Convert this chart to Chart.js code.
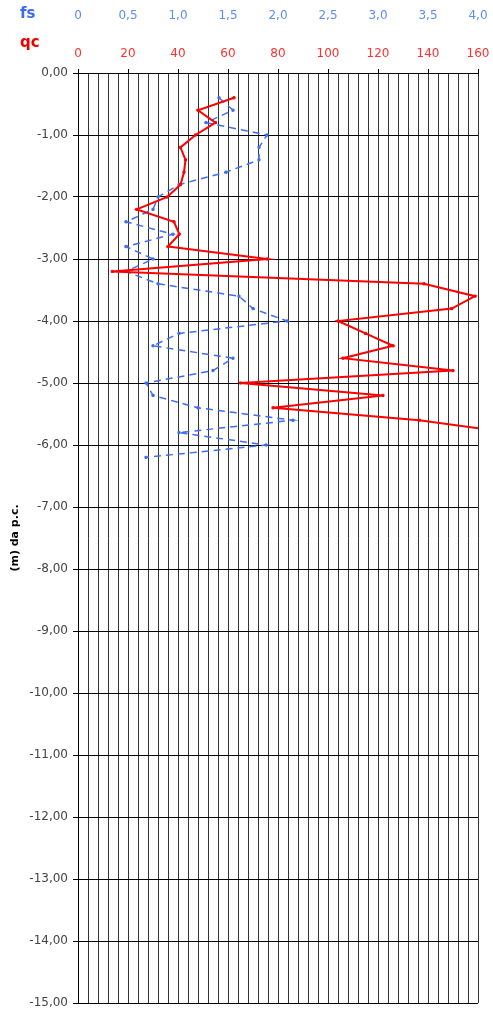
<!DOCTYPE html>
<html>
<head>
<meta charset="utf-8">
<script src="https://cdn.jsdelivr.net/npm/chart.js@4.4.1/dist/chart.umd.min.js"></script>
<style>
  body { margin:0; background:#fff; }
  #wrap { position:relative; width:493px; height:1017px; }
  .ax-name { position:absolute; font-family:'DejaVu Sans', sans-serif; font-weight:bold; font-size:15px; line-height:1; }
</style>
</head>
<body>
<div id="wrap">
  <canvas id="cpt" width="493" height="1017"></canvas>
  <span class="ax-name" style="left:20px; top:6px; color:#3a6cf0;">fs</span>
  <span class="ax-name" style="left:20px; top:35px; color:#ee0000;">qc</span>
</div>
<script>
// profondità (m) e letture della prova penetrometrica
const depthQc = [0.4,0.6,0.8,1.0,1.2,1.4,1.6,1.8,2.0,2.2,2.4,2.6,2.8,3.0,3.2,3.4,3.6,3.8,4.0,4.2,4.4,4.6,4.8,5.0,5.2,5.4,5.6,5.8];
const qcValues = [62.4,48,55,47,41,43,42.4,41,35.7,23.5,38.4,40.5,36,75.7,13.7,138.4,158.8,149.5,104,115,126,106,150,65,122,78,136.5,173];
const depthFs = [0.4,0.6,0.8,1.0,1.2,1.4,1.6,1.8,2.0,2.2,2.4,2.6,2.8,3.0,3.2,3.4,3.6,3.8,4.0,4.2,4.4,4.6,4.8,5.0,5.2,5.4,5.6,5.8,6.0,6.2];
const fsValues = [1.41,1.55,1.28,1.89,1.81,1.81,1.48,1.01,0.80,0.75,0.48,0.95,0.48,0.75,0.48,0.80,1.61,1.75,2.09,1.01,0.75,1.55,1.35,0.68,0.75,1.20,2.15,1.01,1.88,0.68];
const qcTicks = [0,20,40,60,80,100,120,140,160];
const fsTicks = [0,0.5,1,1.5,2,2.5,3,3.5,4];

const comma = (v, d) => v.toFixed(d).replace('.', ',');
const FONT = "'DejaVu Sans', sans-serif";
// niente margini extra per le etichette agli estremi
const noSidePad = s => { s.paddingLeft = 0; s.paddingRight = 0; };

new Chart(document.getElementById('cpt'), {
  type: 'scatter',
  data: {
    datasets: [
      {
        label: 'qc',
        xAxisID: 'x',
        data: qcValues.map((v, i) => ({ x: v, y: -depthQc[i] })),
        showLine: true,
        borderColor: '#ff0000',
        backgroundColor: '#ff0000',
        borderWidth: 2,
        pointStyle: 'rect',
        pointRadius: 1.5,
        pointBorderWidth: 1,
        order: 1
      },
      {
        label: 'fs',
        xAxisID: 'x2',
        data: fsValues.map((v, i) => ({ x: v, y: -depthFs[i] })),
        showLine: true,
        borderColor: '#3d6ef5',
        backgroundColor: '#3d6ef5',
        borderWidth: 1.5,
        borderDash: [7, 5],
        pointStyle: 'rect',
        pointRadius: 1.5,
        pointBorderWidth: 1,
        order: 2
      }
    ]
  },
  options: {
    responsive: false,
    animation: false,
    layout: { padding: { left: 0, right: 15, top: 0, bottom: 14 } },
    plugins: { legend: { display: false }, tooltip: { enabled: false } },
    scales: {
      x: {
        type: 'linear', position: 'top', min: 0, max: 160, weight: 0,
        afterFit: s => { s.height = 37; noSidePad(s); },
        border: { color: '#000', width: 1 },
        grid: {
          color: '#333', lineWidth: 1, tickLength: 4,
          tickColor: ctx => qcTicks.includes(ctx.tick.value) ? '#000' : 'rgba(0,0,0,0)'
        },
        ticks: {
          stepSize: 4, autoSkip: false, maxRotation: 0, padding: 8,
          color: '#ff3030', font: { family: FONT, size: 12 },
          callback: v => qcTicks.includes(v) ? String(v) : ''
        }
      },
      x2: {
        type: 'linear', position: 'top', min: 0, max: 4, weight: 1,
        afterFit: s => { s.height = 36; noSidePad(s); },
        border: { display: false },
        grid: { display: false },
        ticks: {
          stepSize: 0.5, autoSkip: false, maxRotation: 0, padding: 5,
          color: '#5d8ef2', font: { family: FONT, size: 12 },
          callback: v => fsTicks.includes(v) ? (v === 0 ? '0' : comma(v, 1)) : ''
        }
      },
      y: {
        type: 'linear', min: -15, max: 0,
        afterFit: s => { s.width = 78; },
        border: { color: '#000', width: 1 },
        grid: { color: '#000', lineWidth: 1, tickLength: 5, tickColor: '#000' },
        ticks: {
          stepSize: 1, padding: 5, color: '#444',
          font: { family: FONT, size: 12 },
          callback: v => comma(v, 2)
        },
        title: {
          display: true, text: '(m) da p.c.', color: '#000',
          font: { family: FONT, size: 11, weight: 'bold' },
          padding: { top: 9, bottom: 0 }
        }
      }
    }
  }
});
</script>
</body>
</html>
